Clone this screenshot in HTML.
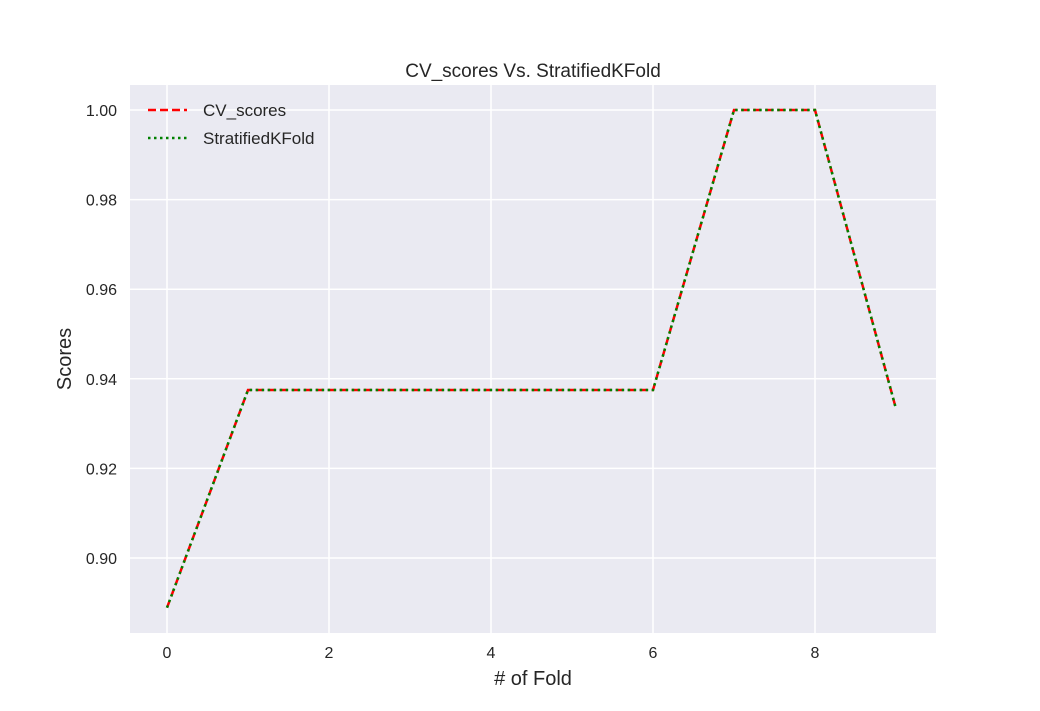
<!DOCTYPE html>
<html><head><meta charset="utf-8"><style>body{margin:0;background:#fff}svg{display:block;font-family:"Liberation Sans",sans-serif}</style></head>
<body>
<svg id="chart" width="1040" height="711">
<rect x="130" y="85" width="806" height="548" fill="#eaeaf2"/>
<g id="grid"></g><g id="ticks"></g><g id="series"></g>
<text x="533" y="77" text-anchor="middle" font-size="19" fill="#262626">CV_scores Vs. StratifiedKFold</text>
<text x="533" y="685" text-anchor="middle" font-size="20" fill="#262626"># of Fold</text>
<text transform="translate(71,359) rotate(-90)" text-anchor="middle" font-size="20" fill="#262626">Scores</text>
<g>
<line x1="148" y1="110" x2="187" y2="110" stroke="#ff0000" stroke-width="2.5" stroke-dasharray="8,4"/>
<text x="203" y="116" font-size="17" fill="#262626">CV_scores</text>
<line x1="148" y1="138" x2="187" y2="138" stroke="#008000" stroke-width="2.5" stroke-dasharray="2.5,3.5"/>
<text x="203" y="144" font-size="17" fill="#262626">StratifiedKFold</text>
</g>
</svg>
<script>
const folds=[0,1,2,3,4,5,6,7,8,9];
const cvScores=[0.8889,0.9375,0.9375,0.9375,0.9375,0.9375,0.9375,1.0,1.0,0.9333];
const skfScores=[0.8889,0.9375,0.9375,0.9375,0.9375,0.9375,0.9375,1.0,1.0,0.9333];
const xTicks=[0,2,4,6,8];
const yTicks=[0.90,0.92,0.94,0.96,0.98,1.00];
const X=v=>167+(v-0)*81;
const Y=v=>110+(1.0-v)*4480;
const NS='http://www.w3.org/2000/svg';
function mk(t,a,p){const e=document.createElementNS(NS,t);for(const k in a)e.setAttribute(k,a[k]);p.appendChild(e);return e;}
const grid=document.getElementById('grid'),ticks=document.getElementById('ticks'),ser=document.getElementById('series');
xTicks.forEach(t=>{
 const l=mk('line',{x1:X(t),x2:X(t),y1:85,y2:633,stroke:'#fff','stroke-width':1.5},grid);
 
 
 const s=mk('text',{x:X(t),y:658,'text-anchor':'middle','font-size':16,fill:'#262626'},ticks);
 s.textContent=t;
 
 
});
yTicks.forEach(t=>{
 const l=mk('line',{x1:130,x2:936,y1:Y(t),y2:Y(t),stroke:'#fff','stroke-width':1.5},grid);
 
 
 const s=mk('text',{x:117,y:Y(t)+6,'text-anchor':'end','font-size':16,fill:'#262626'},ticks);
 s.textContent=t.toFixed(2);
 
 
});
const p1=mk('polyline',{points:folds.map((f,i)=>X(f)+','+Y(cvScores[i])).join(' '),fill:'none',stroke:'#ff0000','stroke-width':2.5,'stroke-dasharray':'8,4'},ser);


const p2=mk('polyline',{points:folds.map((f,i)=>X(f)+','+Y(skfScores[i])).join(' '),fill:'none',stroke:'#008000','stroke-width':2.5,'stroke-dasharray':'2.5,3.5'},ser);


</script>
</body></html>
